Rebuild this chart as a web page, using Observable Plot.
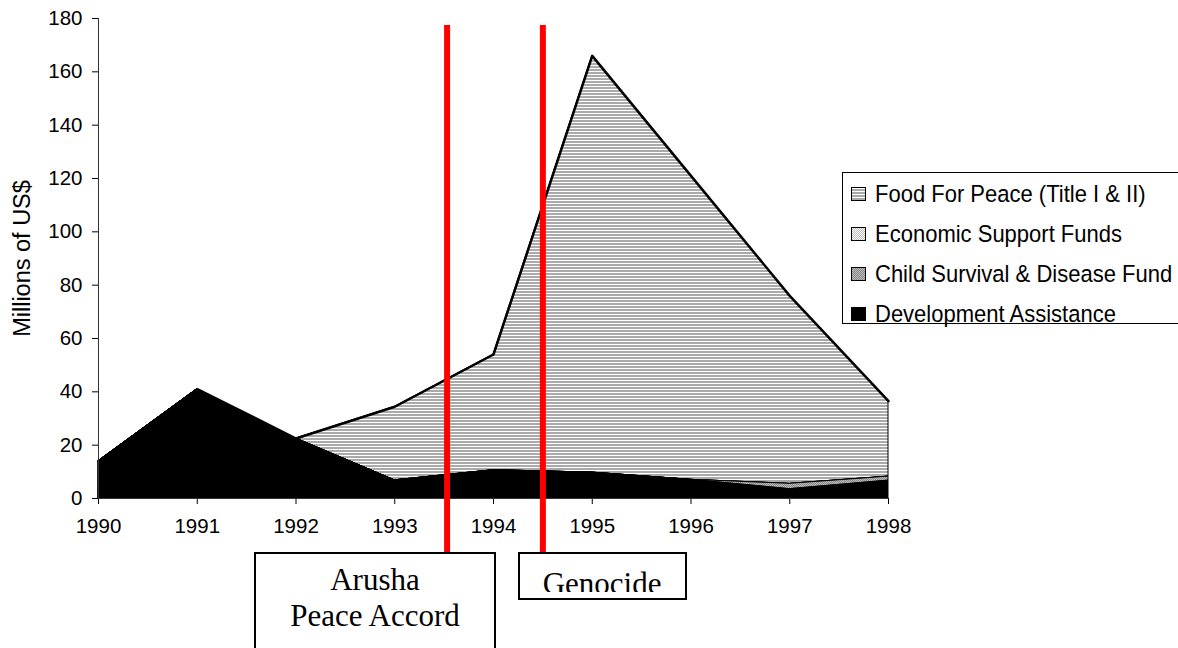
<!DOCTYPE html>
<html><head><meta charset="utf-8">
<script src="https://cdn.jsdelivr.net/npm/d3@7"></script>
<script src="https://cdn.jsdelivr.net/npm/@observablehq/plot@0.6"></script>
<style>
body{margin:0;background:#fff;}
#wrap{position:relative;width:1178px;height:648px;overflow:hidden;font-family:"Liberation Sans",Arial,sans-serif;}
.legend{position:absolute;left:842px;top:172px;width:350px;height:152px;border:1px solid #000;background:#fff;box-sizing:border-box;}
.item{position:absolute;left:8px;height:26px;display:flex;align-items:center;font-size:22px;white-space:nowrap;color:#000}
.item .t{display:inline-block;transform:scaleY(1.08);}
.sw{width:15px;height:14px;border:1.5px solid #000;margin-right:9px;box-sizing:border-box;flex:none}
.box{position:absolute;border:2px solid #000;background:#fff;box-sizing:border-box;font-family:"Liberation Serif","Times New Roman",serif;font-size:31px;text-align:center;color:#000}
.inner{position:absolute;left:0;right:0;top:0;overflow:hidden}
.inner div{line-height:36px;}
</style></head>
<body><div id="wrap"></div>
<script>
// ---- data ----
const years = [1990, 1991, 1992, 1993, 1994, 1995, 1996, 1997, 1998];
const foodForPeace = [0, 0, 0, 27.6, 43.4, 156.3, 114, 70.5, 28.3];
const economicSupportFunds = [0, 0, 0, 0, 0, 0, 0, 0, 0];
const childSurvival = [0, 0, 0, 0, 0, 0, 0, 2, 1.5];
const developmentAssistance = [14, 41, 22.5, 6.8, 10.6, 9.7, 7, 3.5, 6.7];
const seriesNames = ["Food For Peace (Title I & II)", "Economic Support Funds", "Child Survival & Disease Fund", "Development Assistance"];
const yTicks = [0, 20, 40, 60, 80, 100, 120, 140, 160, 180];
const eventYears = [1993.53, 1994.5];
const eventLabels = [["Arusha", "Peace Accord"], ["Genocide"]];
const boxX1 = [1991.58, 1994.25];
const boxX2 = [1994.03, 1995.96];
const yLabel = "Millions of US$";

const seriesValues = [foodForPeace, economicSupportFunds, childSurvival, developmentAssistance];
const rows = seriesNames.flatMap((s, k) => years.map((yr, i) => ({year: yr, series: s, value: seriesValues[k][i]})));
const totals = years.map((yr, i) => d3.sum(seriesValues, v => v[i]));
const fills = ["url(#pFood)", "url(#pEsf)", "url(#pChild)", "#000"];

const plot = Plot.plot({
  width: 1178, height: 648,
  marginLeft: 98, marginRight: 290, marginTop: 18, marginBottom: 150,
  style: {fontFamily: "'Liberation Sans', Arial, sans-serif", fontSize: "20.5px", color: "#000", background: "transparent"},
  x: {domain: [1990, 1998], ticks: years, tickFormat: "d", tickSize: 6, tickPadding: 14, label: null},
  y: {domain: [0, 180], ticks: yTicks, tickSize: 6, tickPadding: 10, label: null},
  color: {domain: seriesNames, range: fills},
  marks: [
    Plot.areaY(rows, {x: "year", y: "value", z: "series", fill: "series", order: [...seriesNames].reverse(), stroke: "#000", strokeWidth: 1}),
    Plot.lineY(years, {x: d => d, y: (d, i) => totals[i], stroke: "#000", strokeWidth: 2.5}),
    Plot.ruleX([1990], {stroke: "#333"}),
    Plot.ruleY([0], {stroke: "#333"}),
    Plot.ruleX(eventYears, {x: d => d, y1: () => -20.3, y2: () => 177.4, stroke: "#ff0000", strokeWidth: 6}),
    Plot.text([yLabel], {frameAnchor: "left", textAnchor: "middle", rotate: -90, dx: -76, fontSize: 23.5, text: d => d})
  ]
});

d3.select(plot).insert("defs", ":first-child").html(`
  <pattern id="pFood" width="4" height="3" patternUnits="userSpaceOnUse">
    <rect width="4" height="3" fill="#fff"/><rect width="4" height="2" fill="#aaaaaa"/></pattern>
  <pattern id="pEsf" width="2" height="2" patternUnits="userSpaceOnUse">
    <rect width="2" height="2" fill="#fff"/><rect width="1" height="1" fill="#bbb"/><rect x="1" y="1" width="1" height="1" fill="#bbb"/></pattern>
  <pattern id="pChild" width="2" height="2" patternUnits="userSpaceOnUse">
    <rect width="2" height="2" fill="#bbb"/><rect width="1" height="1" fill="#888"/><rect x="1" y="1" width="1" height="1" fill="#888"/></pattern>
`);

const wrap = document.getElementById("wrap");
wrap.appendChild(plot);

// legend
const legend = document.createElement("div");
legend.className = "legend";
const swatchCss = [
  "background:repeating-linear-gradient(to bottom,#fff 0 1px,#aaa 1px 3px)",
  "background:repeating-conic-gradient(#bbb 0 25%,#fff 0 50%) 0 0/2px 2px",
  "background:repeating-conic-gradient(#888 0 25%,#bbb 0 50%) 0 0/2px 2px",
  "background:#000"
];
seriesNames.forEach((name, i) => {
  const it = document.createElement("div");
  it.className = "item";
  it.style.top = (8 + i * 40) + "px";
  it.innerHTML = `<span class="sw" style="${swatchCss[i]}"></span><span class="t"></span>`;
  it.lastChild.textContent = name;
  legend.appendChild(it);
});
wrap.appendChild(legend);

// annotation boxes
const xs = plot.scale("x"), ys = plot.scale("y");
const boxTop = ys.apply(-20.3);
const boxHeights = [120, 48];
const innerHeights = [110, 38];
eventLabels.forEach((lines, i) => {
  const b = document.createElement("div");
  b.className = "box";
  const l = xs.apply(boxX1[i]), r = xs.apply(boxX2[i]);
  b.style.left = l + "px";
  b.style.top = boxTop + "px";
  b.style.width = (r - l) + "px";
  b.style.height = boxHeights[i] + "px";
  const inner = document.createElement("div");
  inner.className = "inner";
  inner.style.height = innerHeights[i] + "px";
  inner.style.paddingTop = (i === 1 ? 12 : 8) + "px";
  inner.style.boxSizing = "border-box";
  lines.forEach(t => { const d = document.createElement("div"); d.textContent = t; inner.appendChild(d); });
  b.appendChild(inner);
  wrap.appendChild(b);
});
</script>
</body></html>
